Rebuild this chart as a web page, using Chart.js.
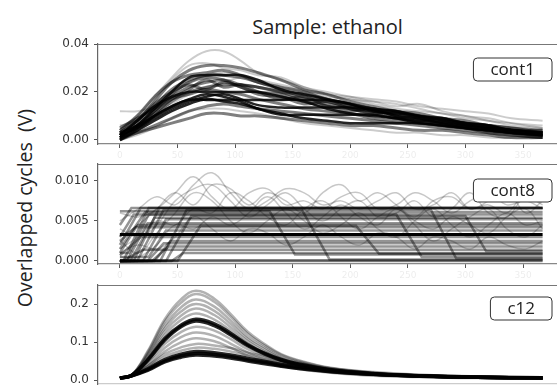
<!DOCTYPE html>
<html>
<head>
<meta charset="utf-8">
<title>Sample: ethanol</title>
<style>
  body { margin: 0; background: #fff; width: 557px; height: 385px; overflow: hidden; position: relative; font-family: "Open Sans", sans-serif; }
  canvas { position: absolute; left: 0; }
  #title { position: absolute; left: 98px; width: 459px; top: 13px; text-align: center; font-size: 20px; color: #222; }
  #ylab { position: absolute; left: 24px; top: 208px; transform: translate(-50%, -50%) rotate(-90deg); white-space: pre; font-size: 19.5px; color: #222; }
</style>
</head>
<body>
<div id="title">Sample: ethanol</div>
<div id="ylab">Overlapped cycles  (V)</div>
<canvas id="cont1" width="557" height="130" style="top:30px"></canvas>
<canvas id="cont8" width="557" height="130" style="top:150px"></canvas>
<canvas id="c12" width="557" height="114" style="top:271px"></canvas>

<script src="https://cdn.jsdelivr.net/npm/chart.js"></script>
<script>
// shared x ticks (sample index)
const xTicks = [0, 50, 100, 150, 200, 250, 300, 350];

// ---- cont1 ----
const c1X = [0, 15, 30, 45, 60, 75, 90, 105, 120, 140, 160, 180, 200, 220, 240, 260, 280, 300, 320, 340, 367];
const c1Faint = [
  [0.004, 0.010, 0.018, 0.026, 0.033, 0.037, 0.037, 0.033, 0.028, 0.025, 0.022, 0.019, 0.017, 0.016, 0.015, 0.013, 0.011, 0.010, 0.008, 0.007, 0.006],
  [0.012, 0.012, 0.014, 0.019, 0.024, 0.027, 0.028, 0.027, 0.025, 0.022, 0.020, 0.018, 0.017, 0.015, 0.013, 0.012, 0.011, 0.009, 0.008, 0.006, 0.005],
  [0.004, 0.009, 0.017, 0.025, 0.031, 0.032, 0.030, 0.029, 0.027, 0.026, 0.022, 0.020, 0.018, 0.016, 0.014, 0.015, 0.012, 0.010, 0.009, 0.007, 0.005],
  [0.006, 0.008, 0.011, 0.015, 0.019, 0.022, 0.024, 0.026, 0.025, 0.023, 0.021, 0.019, 0.018, 0.017, 0.016, 0.014, 0.013, 0.012, 0.011, 0.009, 0.008],
  [0.000, 0.002, 0.005, 0.009, 0.012, 0.013, 0.013, 0.012, 0.011, 0.009, 0.007, 0.006, 0.005, 0.004, 0.003, 0.003, 0.002, 0.002, 0.001, 0.001, 0.001]
];
const c1Main = [
  [0.003, 0.008, 0.016, 0.024, 0.029, 0.031, 0.031, 0.030, 0.028, 0.025, 0.021, 0.019, 0.016, 0.014, 0.012, 0.011, 0.009, 0.008, 0.006, 0.005, 0.004],
  [0.002, 0.007, 0.014, 0.021, 0.025, 0.027, 0.027, 0.026, 0.024, 0.021, 0.018, 0.016, 0.014, 0.013, 0.011, 0.009, 0.008, 0.007, 0.005, 0.004, 0.003],
  [0.005, 0.009, 0.013, 0.018, 0.022, 0.024, 0.025, 0.023, 0.022, 0.020, 0.019, 0.017, 0.014, 0.012, 0.011, 0.010, 0.009, 0.007, 0.006, 0.004, 0.004],
  [0.000, 0.004, 0.010, 0.016, 0.020, 0.022, 0.023, 0.023, 0.022, 0.020, 0.017, 0.015, 0.013, 0.012, 0.010, 0.009, 0.007, 0.006, 0.005, 0.004, 0.003],
  [0.000, 0.003, 0.006, 0.009, 0.012, 0.014, 0.015, 0.014, 0.013, 0.012, 0.011, 0.010, 0.009, 0.008, 0.007, 0.006, 0.005, 0.004, 0.003, 0.002, 0.001],
  [0.001, 0.003, 0.005, 0.007, 0.009, 0.011, 0.011, 0.010, 0.010, 0.009, 0.008, 0.007, 0.006, 0.006, 0.005, 0.004, 0.004, 0.003, 0.002, 0.001, 0.001],
  [0.003, 0.008, 0.015, 0.020, 0.023, 0.021, 0.024, 0.022, 0.019, 0.018, 0.015, 0.016, 0.013, 0.011, 0.012, 0.009, 0.008, 0.007, 0.006, 0.005, 0.003],
  [0.002, 0.006, 0.011, 0.017, 0.021, 0.025, 0.022, 0.023, 0.020, 0.017, 0.018, 0.014, 0.012, 0.013, 0.010, 0.008, 0.009, 0.006, 0.005, 0.003, 0.002],
  [0.001, 0.005, 0.012, 0.019, 0.024, 0.026, 0.025, 0.022, 0.020, 0.019, 0.016, 0.014, 0.013, 0.011, 0.009, 0.008, 0.006, 0.005, 0.004, 0.003, 0.002],
  [0.002, 0.006, 0.012, 0.017, 0.019, 0.021, 0.020, 0.019, 0.017, 0.015, 0.013, 0.012, 0.011, 0.009, 0.008, 0.007, 0.006, 0.005, 0.003, 0.002, 0.001],
  [0.004, 0.010, 0.018, 0.024, 0.027, 0.028, 0.029, 0.027, 0.024, 0.022, 0.020, 0.017, 0.015, 0.013, 0.012, 0.010, 0.008, 0.007, 0.006, 0.004, 0.003]
];
const c1Dark = [
  [0.001, 0.006, 0.013, 0.020, 0.026, 0.027, 0.027, 0.027, 0.025, 0.021, 0.019, 0.017, 0.015, 0.012, 0.011, 0.010, 0.008, 0.006, 0.005, 0.004, 0.003],
  [0.002, 0.005, 0.010, 0.014, 0.0167, 0.0167, 0.0167, 0.0167, 0.0167, 0.0167, 0.0167, 0.0165, 0.015, 0.013, 0.012, 0.010, 0.009, 0.007, 0.006, 0.004, 0.003],
  [0.001, 0.005, 0.009, 0.013, 0.016, 0.018, 0.019, 0.017, 0.0145, 0.0135, 0.0135, 0.0135, 0.0135, 0.0125, 0.010, 0.009, 0.007, 0.006, 0.005, 0.004, 0.002],
  [0.003, 0.006, 0.010, 0.014, 0.017, 0.019, 0.018, 0.016, 0.013, 0.0105, 0.0105, 0.0105, 0.0105, 0.0105, 0.009, 0.008, 0.007, 0.005, 0.004, 0.003, 0.002],
  [0.000, 0.004, 0.008, 0.012, 0.015, 0.017, 0.016, 0.015, 0.013, 0.011, 0.009, 0.008, 0.007, 0.007, 0.007, 0.007, 0.006, 0.005, 0.004, 0.003, 0.002],
  [0.002, 0.008, 0.014, 0.018, 0.020, 0.020, 0.020, 0.020, 0.020, 0.018, 0.016, 0.013, 0.011, 0.010, 0.009, 0.007, 0.006, 0.005, 0.004, 0.003, 0.002]
];
const c1Ticks = [0, 0.02, 0.04];
const c1Labels = ['0.00', '0.02', '0.04'];

// ---- cont8 ----
const c8Center = [[0, 0.0033], [367, 0.0033]];
const c8Steps = [
  [[0, 0.0045], [10, 0.0066], [367, 0.0066]],
  [[0, 0.002], [18, 0.0066], [367, 0.0066]],
  [[0, 0], [3, 0], [25, 0.0066], [367, 0.0066]],
  [[0, 0], [12, 0], [34, 0.0066], [367, 0.0066]],
  [[0, 0], [20, 0], [40, 0.0052], [367, 0.0052]],
  [[0, 0.001], [14, 0.0042], [367, 0.0042]],
  [[0, 0], [30, 0], [44, 0.0025], [367, 0.0025]],
  [[0, 0], [367, 0]],
  [[0, 0.0001], [367, 0.0001]],
  [[0, 0], [15, 0], [38, 0.0064], [158, 0.0064], [182, 0.0002], [367, 0.0002]],
  [[0, 0.003], [12, 0.0058], [240, 0.0058], [262, 0.0005], [367, 0.0005]],
  [[0, 0], [40, 0], [62, 0.0056], [300, 0.0056], [318, 0.0012], [367, 0.0012]],
  [[0, 0.001], [8, 0.001], [25, 0.0058], [367, 0.0058]],
  [[0, 0], [6, 0], [24, 0.0047], [367, 0.0047]],
  [[0, 0.0005], [25, 0.0005], [40, 0.0038], [367, 0.0038]],
  [[0, 0], [28, 0], [42, 0.0018], [367, 0.0018]],
  [[0, 0], [45, 0], [55, 0.001], [367, 0.001]],
  [[0, 0.0062], [130, 0.0062], [152, 0.0008], [367, 0.0008]],
  [[0, 0], [35, 0], [58, 0.0064], [270, 0.0064], [292, 0.0003], [367, 0.0003]],
  [[0, 0.0015], [22, 0.0061], [367, 0.0061]],
  [[0, 0], [9, 0], [30, 0.0054], [367, 0.0054]],
  [[0, 0.0007], [18, 0.003], [367, 0.003]],
  [[0, 0], [24, 0], [38, 0.0022], [367, 0.0022]],
  [[0, 0.0025], [16, 0.0045], [367, 0.0045]],
  [[0, 0], [50, 0], [70, 0.0044], [205, 0.0044], [225, 0.0009], [367, 0.0009]],
  [[0, 0], [2, 0], [20, 0.0014], [367, 0.0014]]
];
const c8X = [0, 16, 32, 48, 64, 80, 96, 112, 128, 144, 160, 176, 192, 208, 224, 240, 256, 272, 288, 304, 320, 336, 352, 367];
const c8Waves = [
  [0.006, 0.0055, 0.0065, 0.0085, 0.0105, 0.008, 0.0065, 0.0085, 0.009, 0.007, 0.0075, 0.0065, 0.008, 0.0085, 0.0065, 0.007, 0.0085, 0.0075, 0.006, 0.0075, 0.0085, 0.007, 0.0075, 0.0065],
  [0.004, 0.003, 0.0045, 0.0075, 0.009, 0.0095, 0.0075, 0.0055, 0.007, 0.0085, 0.0065, 0.005, 0.0065, 0.0075, 0.0055, 0.006, 0.0075, 0.0055, 0.0065, 0.0085, 0.006, 0.0055, 0.008, 0.007],
  [0.0025, 0.001, 0.0035, 0.006, 0.0085, 0.0075, 0.005, 0.0035, 0.005, 0.0065, 0.005, 0.0035, 0.0045, 0.006, 0.004, 0.003, 0.005, 0.0065, 0.0045, 0.003, 0.0045, 0.006, 0.0045, 0.005],
  [0.005, 0.0065, 0.008, 0.007, 0.0095, 0.011, 0.0085, 0.0065, 0.0075, 0.009, 0.0085, 0.007, 0.0075, 0.0065, 0.0075, 0.0085, 0.0065, 0.007, 0.0085, 0.0065, 0.007, 0.006, 0.0085, 0.0075],
  [0.0015, 0.003, 0.005, 0.0045, 0.0065, 0.006, 0.0085, 0.0075, 0.0055, 0.0045, 0.0065, 0.0075, 0.0055, 0.004, 0.0055, 0.0065, 0.005, 0.004, 0.0055, 0.0045, 0.0035, 0.0055, 0.0065, 0.004],
  [0.0005, 0.0005, 0.002, 0.0045, 0.004, 0.0055, 0.0045, 0.006, 0.008, 0.006, 0.004, 0.0055, 0.007, 0.0055, 0.0045, 0.0065, 0.0045, 0.0025, 0.004, 0.0055, 0.0065, 0.004, 0.003, 0.0045],
  [0.003, 0.0045, 0.0065, 0.0085, 0.007, 0.0095, 0.009, 0.007, 0.0085, 0.0075, 0.006, 0.0085, 0.0095, 0.0075, 0.0085, 0.007, 0.0055, 0.0075, 0.008, 0.0065, 0.0075, 0.009, 0.006, 0.0075],
  [0.001, 0.002, 0.0015, 0.003, 0.0055, 0.004, 0.0025, 0.004, 0.0035, 0.002, 0.003, 0.0045, 0.003, 0.002, 0.0035, 0.003, 0.0015, 0.003, 0.0025, 0.0015, 0.003, 0.002, 0.0015, 0.0025]
];
const c8Ticks = [0, 0.005, 0.010];
const c8Labels = ['0.000', '0.005', '0.010'];

// ---- c12 ----
const c12X = [0, 10, 24, 39, 53, 66, 82, 96, 111, 126, 140, 155, 183, 220, 260, 310, 367];
const c12Light = [
  [0.005, 0.012, 0.075, 0.160, 0.212, 0.235, 0.214, 0.174, 0.127, 0.094, 0.068, 0.052, 0.032, 0.019, 0.012, 0.008, 0.005],
  [0.005, 0.012, 0.072, 0.154, 0.203, 0.226, 0.206, 0.167, 0.122, 0.090, 0.066, 0.050, 0.031, 0.018, 0.011, 0.007, 0.005],
  [0.005, 0.012, 0.068, 0.144, 0.191, 0.212, 0.193, 0.157, 0.114, 0.085, 0.061, 0.047, 0.029, 0.017, 0.011, 0.007, 0.005],
  [0.005, 0.012, 0.064, 0.136, 0.180, 0.200, 0.182, 0.148, 0.108, 0.080, 0.058, 0.044, 0.027, 0.016, 0.010, 0.006, 0.005],
  [0.005, 0.012, 0.060, 0.128, 0.169, 0.188, 0.171, 0.139, 0.102, 0.075, 0.055, 0.041, 0.025, 0.015, 0.009, 0.006, 0.005],
  [0.005, 0.012, 0.056, 0.119, 0.158, 0.175, 0.159, 0.130, 0.095, 0.070, 0.051, 0.039, 0.024, 0.014, 0.009, 0.006, 0.005],
  [0.005, 0.012, 0.046, 0.095, 0.126, 0.140, 0.130, 0.108, 0.081, 0.062, 0.047, 0.036, 0.024, 0.014, 0.010, 0.006, 0.005],
  [0.005, 0.012, 0.041, 0.085, 0.113, 0.125, 0.116, 0.096, 0.073, 0.055, 0.042, 0.033, 0.021, 0.013, 0.009, 0.006, 0.005],
  [0.005, 0.012, 0.036, 0.075, 0.099, 0.110, 0.102, 0.085, 0.064, 0.048, 0.037, 0.029, 0.019, 0.011, 0.008, 0.005, 0.005],
  [0.005, 0.011, 0.036, 0.068, 0.086, 0.095, 0.091, 0.084, 0.072, 0.062, 0.051, 0.044, 0.031, 0.021, 0.014, 0.010, 0.007],
  [0.005, 0.011, 0.032, 0.061, 0.077, 0.085, 0.082, 0.075, 0.065, 0.055, 0.046, 0.039, 0.028, 0.019, 0.013, 0.009, 0.006]
];
const c12Band = [
  [0.005, 0.012, 0.053, 0.109, 0.144, 0.160, 0.148, 0.123, 0.093, 0.070, 0.054, 0.042, 0.027, 0.016, 0.011, 0.007, 0.005],
  [0.005, 0.012, 0.051, 0.105, 0.140, 0.155, 0.143, 0.119, 0.090, 0.068, 0.052, 0.040, 0.026, 0.016, 0.011, 0.007, 0.005],
  [0.005, 0.011, 0.029, 0.054, 0.068, 0.075, 0.072, 0.066, 0.057, 0.049, 0.041, 0.035, 0.025, 0.017, 0.011, 0.008, 0.006],
  [0.005, 0.011, 0.027, 0.050, 0.064, 0.070, 0.067, 0.062, 0.053, 0.046, 0.038, 0.032, 0.023, 0.015, 0.011, 0.007, 0.005],
  [0.005, 0.011, 0.025, 0.048, 0.060, 0.066, 0.063, 0.058, 0.050, 0.043, 0.036, 0.030, 0.022, 0.015, 0.010, 0.007, 0.005]
];
const c12Ticks = [0, 0.1, 0.2];
const c12Labels = ['0.0', '0.1', '0.2'];

// series helpers
function curves(xs, rows, color, width) {
  return rows.map(r => ({
    data: r.map((y, i) => ({ x: xs[i], y: y })),
    borderColor: color, borderWidth: width, pointRadius: 0, tension: 0.4, fill: false
  }));
}
function paths(rows, color, width) {
  return rows.map(r => ({
    data: r.map(p => ({ x: p[0], y: p[1] })),
    borderColor: color, borderWidth: width, pointRadius: 0, tension: 0, fill: false
  }));
}

// top spine + boxed label in the upper right corner
const panelFrame = {
  id: 'panelFrame',
  afterDraw(chart, args, opts) {
    const ctx = chart.ctx, a = chart.chartArea;
    ctx.save();
    ctx.strokeStyle = '#777';
    ctx.lineWidth = 1.2;
    ctx.beginPath();
    ctx.moveTo(a.left, a.top + 0.5);
    ctx.lineTo(a.right, a.top + 0.5);
    ctx.stroke();

    ctx.font = '17px "Open Sans"';
    const w = ctx.measureText(opts.text).width + 34;
    const h = 23, right = a.right - 5, top = a.top + opts.dy;
    ctx.beginPath();
    ctx.roundRect(right - w, top, w, h, 4);
    ctx.fillStyle = '#fff';
    ctx.fill();
    ctx.strokeStyle = '#333';
    ctx.lineWidth = 1;
    ctx.stroke();
    ctx.fillStyle = '#222';
    ctx.textAlign = 'center';
    ctx.textBaseline = 'middle';
    ctx.fillText(opts.text, right - w / 2, top + h / 2 + 1);
    ctx.restore();
  }
};

function panel(id, datasets, p) {
  return new Chart(document.getElementById(id), {
    type: 'line',
    data: { datasets: datasets },
    plugins: [panelFrame],
    options: {
      responsive: false,
      animation: false,
      layout: { padding: { top: 14, right: 0, bottom: 0, left: 0 } },
      plugins: {
        legend: { display: false },
        tooltip: { enabled: false },
        panelFrame: { text: p.label, dy: p.dy }
      },
      scales: {
        x: {
          type: 'linear', min: -19, max: 379.5,
          afterBuildTicks: s => { s.ticks = xTicks.map(v => ({ value: v })); },
          afterFit: s => { s.height = p.xHeight; s.paddingLeft = 0; s.paddingRight = 0; },
          ticks: { display: p.xTicks, color: 'rgba(0,0,0,0.08)', font: { family: 'DejaVu Sans', size: 9 }, padding: 2, maxRotation: 0, autoSkip: false },
          grid: { drawOnChartArea: false, drawTicks: p.xTicks, tickLength: 4, color: '#555' },
          border: { color: p.xTicks ? '#888' : '#ccc', width: 1.2 }
        },
        y: {
          min: p.min, max: p.max,
          afterBuildTicks: s => { s.ticks = p.ticks.map(v => ({ value: v })); },
          afterFit: s => { s.width = 98; s.paddingTop = 0; s.paddingBottom = 0; },
          ticks: { callback: (v, i) => p.labels[i], color: '#333', font: { family: 'DejaVu Sans', size: 12 }, padding: 5 },
          grid: { drawOnChartArea: false, tickLength: 4, color: '#555' },
          border: { color: '#666', width: 1.2 }
        }
      }
    }
  });
}

panel('cont1', [].concat(
  curves(c1X, c1Faint, 'rgba(0,0,0,0.2)', 2),
  curves(c1X, c1Main, 'rgba(0,0,0,0.5)', 3),
  curves(c1X, c1Dark, 'rgba(0,0,0,0.85)', 2.5)
), { label: 'cont1', dy: 14, min: -0.0017, max: 0.04, ticks: c1Ticks, labels: c1Labels, xTicks: true, xHeight: 16 });

panel('cont8', [].concat(
  curves(c8X, c8Waves, 'rgba(0,0,0,0.22)', 1.5),
  paths(c8Steps, 'rgba(0,0,0,0.42)', 2.5),
  paths([c8Center], '#000', 3)
), { label: 'cont8', dy: 15, min: -0.000375, max: 0.0121, ticks: c8Ticks, labels: c8Labels, xTicks: true, xHeight: 16 });

panel('c12', [].concat(
  curves(c12X, c12Light, 'rgba(0,0,0,0.3)', 2.5),
  curves(c12X, c12Band, 'rgba(0,0,0,0.85)', 3.5)
), { label: 'c12', dy: 12, min: -0.0105, max: 0.25, ticks: c12Ticks, labels: c12Labels, xTicks: false, xHeight: 1 });
</script>
</body>
</html>
